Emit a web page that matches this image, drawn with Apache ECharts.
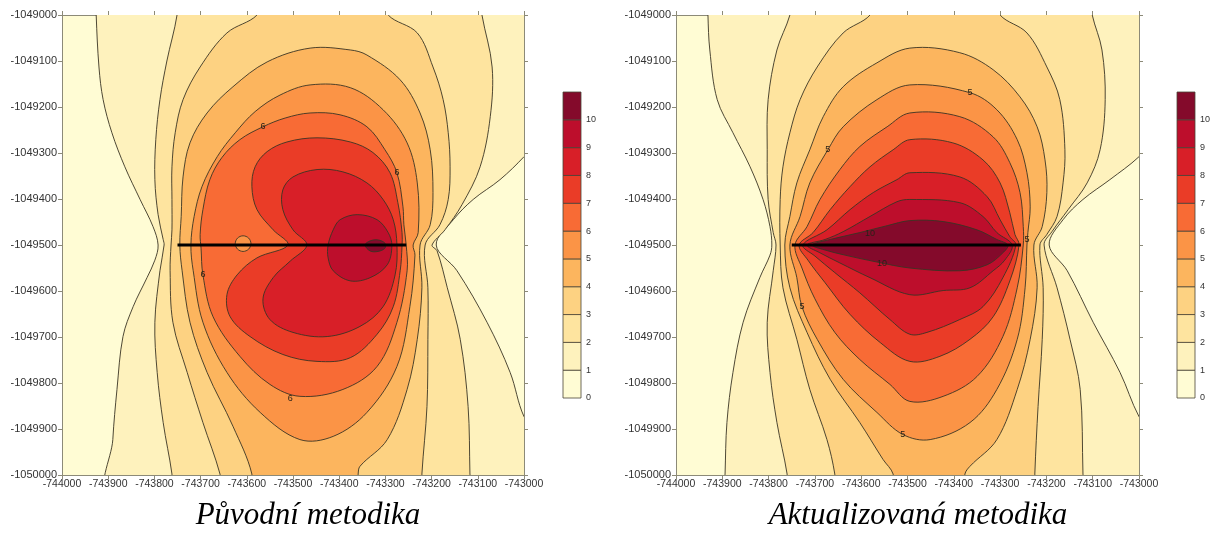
<!DOCTYPE html>
<html>
<head>
<meta charset="utf-8">
<script src="https://cdn.jsdelivr.net/npm/echarts@6.0.0/dist/echarts.min.js"></script>
<style>
html, body { margin: 0; background: #fff; }
#container { width: 1212px; height: 540px; }
</style>
</head>
<body>
<div id="container"></div>
<script>
// map corner (top-left) of both panels
var X0 = -744000, Y0 = -1049000;

// contour levels and band colours (band k = values k..k+1)
var levels = [0, 1, 2, 3, 4, 5, 6, 7, 8, 9, 10];
var bandColors = ['#fffcd4', '#fef2bd', '#fee49f', '#fdd282', '#fcb55e', '#fb9446',
                  '#f86b35', '#ea3c27', '#d81f28', '#bd0e2c', '#840a2b'];

// contour outlines: [metres east of X0, metres south of Y0]
// "Původní metodika"
var orig1 = [[74,-40],[74,0],[80,113],[89,184],[108,256],[136,330],[169,401],[197,460],[208,500],[201,533],[184,571],[154,634],[132,699],[119,814],[110,923],[106,1040],[1040,1040],[1040,930],[1000,873],[970,777],[920,668],[855,556],[810,500],[847,445],[890,401],[948,358],[1000,308],[1040,260],[1040,-40]];
var orig2 = [[249,-40],[249,0],[227,100],[212,184],[203,271],[201,358],[208,434],[219,488],[221,500],[212,556],[201,668],[206,777],[219,886],[238,998],[240,1040],[884,1040],[883,998],[879,851],[862,705],[834,593],[812,513],[801,500],[829,467],[866,412],[905,330],[927,221],[931,113],[909,0],[905,-40]];
var orig3 = [[430,-40],[422,0],[357,39],[299,113],[262,184],[245,256],[238,330],[238,401],[238,467],[236,500],[234,556],[240,668],[271,777],[305,886],[342,998],[346,1040],[779,1040],[779,998],[790,851],[792,705],[792,593],[786,500],[818,456],[836,401],[840,330],[836,256],[825,184],[803,113],[769,39],[706,0],[700,-40]];
var orig4 = [[405,1040],[411,998],[370,894],[314,777],[277,668],[260,556],[255,500],[258,438],[262,352],[277,278],[314,213],[370,156],[444,102],[537,72],[624,76],[660,87],[732,141],[775,213],[797,293],[803,386],[797,456],[775,500],[779,593],[769,705],[747,814],[704,923],[645,981],[641,998],[638,1040]];
var orig5 = [[537,152],[624,158],[695,206],[747,278],[769,365],[771,473],[760,500],[764,522],[753,634],[725,764],[660,864],[587,916],[515,923],[429,864],[357,777],[305,668],[284,556],[279,500],[286,438],[303,373],[336,308],[375,256],[418,210],[472,174]];
var orig6 = [[537,213],[602,217],[660,243],[699,293],[725,343],[738,417],[740,456],[745,500],[747,556],[725,668],[682,764],[608,814],[515,829],[450,803],[385,742],[327,656],[305,565],[301,507],[299,477],[305,423],[320,358],[346,310],[385,271],[435,243],[483,224]];
var orig7 = [[489,500],[457,467],[422,423],[411,373],[418,330],[444,297],[487,276],[552,267],[624,276],[673,299],[710,343],[727,408],[736,473],[736,502],[732,556],[717,634],[682,694],[624,745],[552,753],[478,738],[407,699],[364,656],[357,608],[379,565],[422,528]];
var orig8 = [[530,500],[500,467],[478,423],[478,380],[500,352],[552,336],[608,341],[660,365],[695,401],[717,445],[725,500],[721,565],[695,634],[645,677],[574,699],[500,690],[450,662],[435,617],[457,571],[494,535]];
var orig9 = [[576,500],[587,467],[602,445],[639,434],[682,445],[706,473],[714,502],[704,543],[667,571],[624,578],[587,556],[576,528]];
var orig10 = [[656,500],[667,491],[684,489],[699,496],[699,507],[684,514],[667,513]];
var origDip = [[375,497],[380,485],[392,480],[404,485],[409,497],[404,509],[392,514],[380,509]]; // small low spot, band 5
var origLabels = [[435,243,'6'],[725,343,'6'],[305,565,'6'],[494,834,'6']];

// "Aktualizovaná metodika"
var upd1 = [[69,-40],[69,0],[73,76],[89,184],[123,256],[160,330],[188,401],[203,460],[207,500],[203,522],[181,571],[145,668],[123,777],[110,886],[106,998],[105,1040],[1040,1040],[1040,930],[1000,873],[959,777],[901,668],[845,556],[806,500],[836,445],[879,401],[937,358],[1000,308],[1040,260],[1040,-40]];
var upd2 = [[250,-40],[246,0],[218,76],[199,184],[197,293],[199,401],[210,473],[216,500],[210,556],[197,668],[203,777],[218,886],[240,998],[242,1040],[880,1040],[879,998],[873,814],[851,705],[823,593],[795,500],[812,471],[847,423],[888,365],[916,293],[927,184],[920,76],[899,0],[895,-40]];
var upd3 = [[428,-40],[419,0],[361,39],[305,113],[268,184],[246,256],[231,330],[225,401],[225,500],[231,593],[261,705],[289,814],[326,923],[343,998],[345,1040],[775,1040],[775,998],[782,851],[791,705],[793,593],[786,500],[801,477],[823,438],[836,365],[840,293],[829,184],[801,113],[758,39],[700,0],[692,-40]];
var upd4 = [[470,1040],[469,998],[447,966],[397,886],[333,792],[283,690],[246,593],[235,500],[246,438],[261,365],[289,293],[318,221],[361,156],[434,104],[505,72],[613,82],[685,119],[743,178],[780,243],[797,315],[801,386],[791,460],[773,500],[780,593],[765,705],[737,814],[693,923],[635,981],[624,998],[622,1040]];
var upd5 = [[246,500],[268,438],[289,365],[328,293],[361,243],[434,184],[505,152],[635,169],[693,206],[737,271],[758,343],[765,417],[760,473],[758,500],[754,593],[737,705],[693,814],[635,886],[549,923],[490,912],[434,864],[361,792],[305,705],[272,634],[261,571]];
var upd6 = [[257,500],[283,460],[311,401],[354,336],[397,286],[456,243],[505,213],[613,221],[685,265],[721,321],[743,386],[750,460],[750,500],[737,593],[706,699],[650,786],[577,829],[505,840],[462,803],[397,749],[343,690],[300,617],[272,550]];
var upd7 = [[266,500],[296,473],[333,423],[376,373],[419,330],[469,293],[505,271],[598,278],[663,315],[700,365],[721,430],[732,477],[741,500],[721,578],[685,656],[635,705],[570,742],[505,753],[441,712],[376,651],[322,582],[285,533]];
var upd8 = [[274,500],[326,467],[376,423],[426,386],[477,358],[505,343],[613,352],[672,395],[700,445],[721,482],[734,500],[706,571],[663,634],[613,662],[542,690],[505,694],[462,662],[397,604],[343,560],[300,524]];
var upd9 = [[283,500],[322,488],[361,471],[419,438],[477,406],[505,401],[613,408],[663,438],[693,473],[726,500],[710,533],[685,556],[635,593],[577,599],[505,608],[419,571],[354,539],[311,517]];
var upd10 = [[294,500],[333,488],[397,473],[456,458],[505,447],[577,449],[650,467],[693,488],[717,500],[706,517],[672,543],[613,556],[505,550],[434,537],[365,522],[322,511]];
var updLabels = [[328,293,'5'],[635,169,'5'],[272,634,'5'],[490,912,'5'],[758,488,'5'],[419,476,'10'],[445,540,'10']];

// road segment (source line), same in both panels
var roadEast = [250, 745];
var roadSouth = 500;

var panels = [
  { title: 'Původní metodika', contours: [orig1, orig2, orig3, orig4, orig5, orig6, orig7, orig8, orig9, orig10],
    patches: [{ level: 5, pts: origDip }], labels: origLabels,
    grid: { left: 62, top: 15, width: 462, height: 460 }, titleX: 303, legendX: 563 },
  { title: 'Aktualizovaná metodika', contours: [upd1, upd2, upd3, upd4, upd5, upd6, upd7, upd8, upd9, upd10],
    patches: [], labels: updLabels,
    grid: { left: 676, top: 15, width: 463, height: 460 }, titleX: 913, legendX: 1177 }
];

function toXY(q) { return [X0 + q[0], Y0 - q[1]]; }

var frameColor = '#8c8a78';
var lineColor = '#3a3424';

var dom = document.getElementById('container');
var myChart = echarts.init(dom);

var grids = [], xAxes = [], yAxes = [], series = [], titles = [], graphics = [];

panels.forEach(function (pn, gi) {
  grids.push({ left: pn.grid.left, top: pn.grid.top, width: pn.grid.width, height: pn.grid.height,
    show: true, backgroundColor: bandColors[0], borderWidth: 0 });

  ['bottom', 'top'].forEach(function (pos) {
    xAxes.push({
      type: 'value', gridIndex: gi, position: pos, min: X0, max: X0 + 1000, interval: 100,
      axisLine: { show: true, onZero: false, lineStyle: { color: frameColor, width: 1 } },
      axisTick: { show: true, length: 4, lineStyle: { color: frameColor } },
      axisLabel: { show: pos === 'bottom', fontSize: 10.5, fontFamily: 'Liberation Sans', color: '#333',
        margin: 4, showMinLabel: true, showMaxLabel: true, formatter: function (v) { return String(v); } },
      splitLine: { show: false }
    });
  });
  ['left', 'right'].forEach(function (pos) {
    yAxes.push({
      type: 'value', gridIndex: gi, position: pos, min: Y0 - 1000, max: Y0, interval: 100,
      axisLine: { show: true, onZero: false, lineStyle: { color: frameColor, width: 1 } },
      axisTick: { show: true, length: 4, lineStyle: { color: frameColor } },
      axisLabel: { show: pos === 'left', fontSize: 11, fontFamily: 'Liberation Sans', color: '#333',
        margin: 5, showMinLabel: true, showMaxLabel: true, formatter: function (v) { return String(v); } },
      splitLine: { show: false }
    });
  });

  // filled bands: each level polygon painted over the previous one
  var polys = pn.contours.map(function (pts, i) { return { level: levels[i + 1], pts: pts }; })
    .concat(pn.patches);

  series.push({
    type: 'custom', xAxisIndex: gi * 2, yAxisIndex: gi * 2, clip: true, silent: true,
    data: polys.map(function (p, i) { return [X0 + 500, Y0 - 500, i]; }),
    renderItem: function (params, api) {
      var p = polys[params.dataIndex];
      return {
        type: 'polygon', z2: params.dataIndex,
        shape: { points: p.pts.map(function (q) { return api.coord(toXY(q)); }), smooth: 0.35 },
        style: { fill: bandColors[p.level], stroke: lineColor, lineWidth: 0.9 }
      };
    }
  });

  series.push({
    type: 'line', xAxisIndex: gi * 2, yAxisIndex: gi * 2, silent: true, symbol: 'none', z: 5,
    data: roadEast.map(function (e) { return toXY([e, roadSouth]); }),
    lineStyle: { color: '#000', width: 3 }
  });

  series.push({
    type: 'custom', xAxisIndex: gi * 2, yAxisIndex: gi * 2, silent: true, z: 6,
    data: pn.labels.map(function (l) { return toXY(l); }),
    renderItem: function (params, api) {
      var l = pn.labels[params.dataIndex];
      var pt = api.coord(toXY(l));
      return {
        type: 'text', x: pt[0], y: pt[1],
        style: { text: l[2], fill: '#2a2218', font: '9px "Liberation Sans"', align: 'center', verticalAlign: 'middle' }
      };
    }
  });

  titles.push({
    text: pn.title, left: pn.titleX, top: 495, textAlign: 'center',
    textStyle: { fontFamily: 'Liberation Serif', fontStyle: 'italic', fontWeight: 'normal', fontSize: 31, color: '#000' }
  });

  // colour scale box
  var top = 92, bottom = 398, cell = (bottom - top) / levels.length;
  levels.forEach(function (lv, k) {
    graphics.push({
      type: 'rect', shape: { x: pn.legendX, y: bottom - (k + 1) * cell, width: 18, height: cell },
      style: { fill: bandColors[k], stroke: '#4a4436', lineWidth: 0.8 }
    });
    graphics.push({
      type: 'text', x: pn.legendX + 23, y: bottom - k * cell,
      style: { text: String(lv), fill: '#333', font: '9px "Liberation Sans"', align: 'left', verticalAlign: 'middle' }
    });
  });
});

myChart.setOption({
  backgroundColor: '#fff',
  animation: false,
  title: titles,
  grid: grids,
  xAxis: xAxes,
  yAxis: yAxes,
  series: series,
  graphic: graphics
});

window.addEventListener('resize', function () { myChart.resize(); });
</script>
</body>
</html>
